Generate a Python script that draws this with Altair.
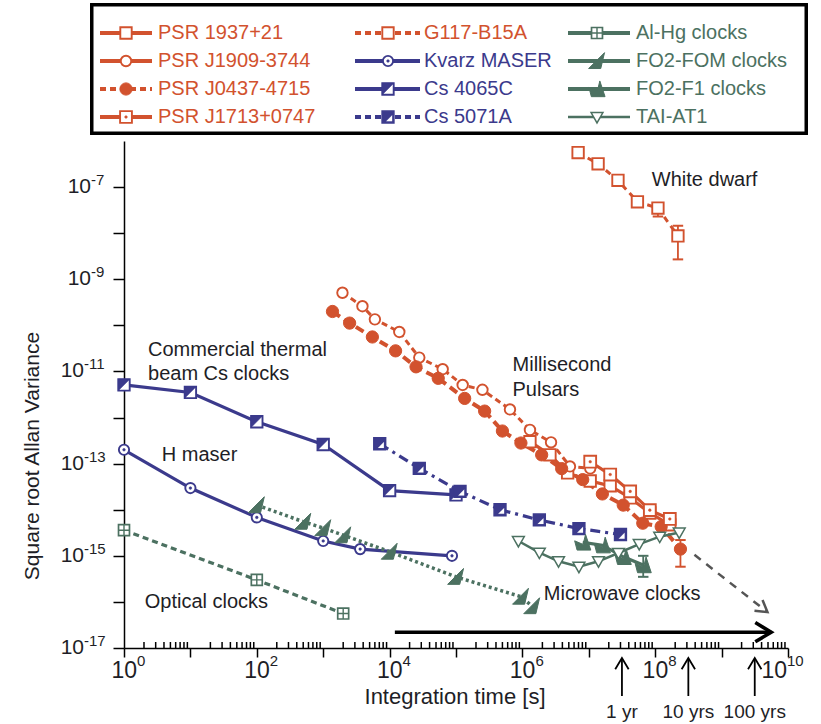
import altair as alt
import pandas as pd

RED, NAVY, GREEN = "#d2522e", "#3b3a8c", "#4c7161"
INK = "#1e1e26"
FONT = "Liberation Sans"
W, H = 664, 507  # plot area in px

# ---- integration time tau [s] and square-root Allan variance ----
psr1937_tau = [1.3e6, 2.6e6, 4.8e6, 1.05e7, 2.1e7, 4.2e7, 8.3e7, 1.66e8]
psr1937_sig = [3.0e-13, 1.55e-13, 6.3e-14, 4.2e-14, 3.3e-14, 1.8e-14, 8.5e-15, 4.7e-15]

j1909_tau = [1950, 3900, 6000, 1.4e4, 2.8e4, 6.3e4, 1.26e5, 2.5e5, 6.5e5, 1.3e6, 2.7e6, 5.2e6, 1.05e7]
j1909_sig = [5.1e-10, 2.6e-10, 1.35e-10, 7.2e-11, 2.0e-11, 1.12e-11, 5.1e-12, 4.0e-12,
             1.5e-12, 5.4e-13, 2.9e-13, 8.7e-14, 7.9e-14]

j0437_tau = [1380, 2500, 5500, 1.23e4, 2.5e4, 5.4e4, 1.35e5, 2.7e5, 5.0e5, 9.5e5, 1.95e6,
             3.9e6, 8.1e6, 1.6e7, 3.3e7, 6.5e7, 1.23e8, 2.4e8]
j0437_sig = [2.0e-10, 1.12e-10, 5.6e-11, 2.8e-11, 1.26e-11, 7.1e-12, 2.6e-12, 1.38e-12,
             5.1e-13, 2.8e-13, 1.55e-13, 7.8e-14, 4.5e-14, 2.2e-14, 1.26e-14, 5.1e-15,
             4.3e-15, 1.4e-15]

j1713_tau = [1.05e7, 2.1e7, 4.2e7, 8.3e7, 1.66e8]
j1713_sig = [1.1e-13, 5.8e-14, 2.5e-14, 9.8e-15, 6.3e-15]

g117_tau = [6.9e6, 1.38e7, 2.75e7, 5.4e7, 1.1e8, 2.2e8]
g117_sig = [5.6e-7, 3.2e-7, 1.4e-7, 4.8e-8, 3.5e-8, 8.7e-9]

kvarz_tau = [1, 10, 100, 1000, 3.6e3, 8.7e4]
kvarz_sig = [2.0e-13, 2.95e-14, 6.8e-15, 2.1e-15, 1.4e-15, 1.0e-15]

cs4065_tau = [1, 10, 100, 1000, 1e4, 1e5]
cs4065_sig = [5.1e-12, 3.5e-12, 8.1e-13, 2.6e-13, 2.6e-14, 2.1e-14]

cs5071_tau = [7.1e3, 2.8e4, 1.15e5, 4.6e5, 1.8e6, 7.1e6, 3.0e7]
cs5071_sig = [2.7e-13, 7.9e-14, 2.5e-14, 1.0e-14, 6.0e-15, 3.9e-15, 2.9e-15]

alhg_tau = [1, 100, 2000]
alhg_sig = [3.6e-15, 3.0e-16, 5.6e-17]

fom_tau = [100, 500, 1000, 2000, 1e4, 1e5, 9.5e5, 1.4e6]
fom_sig = [1.26e-14, 5.5e-15, 4.0e-15, 2.8e-15, 1.23e-15, 3.5e-16, 1.3e-16, 8.1e-17]

f1_tau = [8.1e6, 1.6e7, 3.3e7, 6.6e7]
f1_sig = [1.95e-15, 1.7e-15, 9.5e-16, 6.3e-16]

tai_tau = [8.7e5, 1.8e6, 3.5e6, 7.1e6, 1.4e7, 2.8e7, 5.75e7, 1.17e8, 2.3e8]
tai_sig = [2.1e-15, 1.17e-15, 7.6e-16, 5.8e-16, 7.6e-16, 1.15e-15, 1.8e-15, 2.6e-15, 3.2e-15]

# error bars: tau, lower, upper, colour
err_tau = [1.1e8, 2.2e8, 2.4e8, 6.6e7]
err_lo = [2.3e-8, 2.7e-9, 5.8e-16, 3.5e-16]
err_hi = [4.3e-8, 1.45e-8, 2.2e-15, 1.0e-15]
err_col = [RED, RED, RED, GREEN]

# ---- marker glyphs (shape, fill, stroke, size, stroke width) ----
SQ, CIRC = "square", "circle"
HALF = "M-1,-1L1,-1L-1,1Z"
NOTCH = "M0.7,-0.3L0.7,0.7L-0.3,0.7Z"
PLUS = "M-1,0L1,0M0,-1L0,1"
FOM = "M-1,0.9L0.9,-1L0.45,0.9Z"
F1 = "M-1,-0.2L0.05,0.25L0.35,-1L1,0.95L-0.7,0.95Z"
TRI = "M-1,-0.75L1,-0.75L0,1Z"
CAP = "M-1,0L1,0"
CHEVRON = "M-1,-0.6L0,0L-1,0.6"


def g_osq(c): return [(SQ, "white", c, 130, 1.9)]
def g_ocirc(c): return [(CIRC, "white", c, 110, 1.9)]
def g_fcirc(c): return [(CIRC, c, c, 150, 1)]
def g_dotsq(c): return [(SQ, "white", c, 140, 1.9), (CIRC, c, c, 7, 0.5)]
def g_dotcirc(c): return [(CIRC, "white", c, 105, 1.9), (CIRC, c, c, 7, 0.5)]
def g_half(c): return [(SQ, "white", c, 130, 1.9), (HALF, c, c, 130, 0.5)]
def g_solid(c): return [(SQ, c, c, 140, 1.5), (NOTCH, "white", "white", 140, 0.1)]
def g_plus(c): return [(SQ, "white", c, 120, 1.7), (PLUS, "transparent", c, 120, 1.4)]
def g_fom(c): return [(FOM, c, c, 280, 1)]
def g_f1(c): return [(F1, c, c, 260, 1)]
def g_tri(c): return [(TRI, "white", c, 140, 1.5)]


# name, colour, plot dash, plot width, legend dash, glyphs, tau, sigma
SERIES = [
    ("PSR 1937+21", RED, [], 3.2, [], g_osq(RED), psr1937_tau, psr1937_sig),
    ("PSR J1909-3744", RED, [6, 4], 3, [], g_ocirc(RED), j1909_tau, j1909_sig),
    ("PSR J0437-4715", RED, [9, 5], 4, [7, 4], g_fcirc(RED), j0437_tau, j0437_sig),
    ("PSR J1713+0747", RED, [], 3.2, [], g_dotsq(RED), j1713_tau, j1713_sig),
    ("G117-B15A", RED, [6, 5], 3, [6, 4], g_osq(RED), g117_tau, g117_sig),
    ("Kvarz MASER", NAVY, [], 3.2, [], g_dotcirc(NAVY), kvarz_tau, kvarz_sig),
    ("Cs 4065C", NAVY, [], 3.2, [], g_half(NAVY), cs4065_tau, cs4065_sig),
    ("Cs 5071A", NAVY, [10, 5, 3, 5], 3.2, [5, 4], g_solid(NAVY), cs5071_tau, cs5071_sig),
    ("Al-Hg clocks", GREEN, [6, 4], 3.2, [], g_plus(GREEN), alhg_tau, alhg_sig),
    ("FO2-FOM clocks", GREEN, [3, 3], 3.5, [], g_fom(GREEN), fom_tau, fom_sig),
    ("FO2-F1 clocks", GREEN, [], 3.2, [], g_f1(GREEN), f1_tau, f1_sig),
    ("TAI-AT1", GREEN, [], 2.5, [], g_tri(GREEN), tai_tau, tai_sig),
]

xs = alt.Scale(type="log", domain=[1, 1e10], nice=False)
ys = alt.Scale(type="log", domain=[1e-17, 1e-6], nice=False)
X = lambda f: alt.X(f, type="quantitative", scale=xs)
Y = lambda f: alt.Y(f, type="quantitative", scale=ys)

x_axis = alt.Axis(values=[10.0 ** k for k in range(0, 11)], labels=False, title=None,
                  tickSize=9, tickWidth=1.5, tickColor="black", domainColor="black",
                  domainWidth=1.5, grid=False)
y_axis = alt.Axis(values=[10.0 ** k for k in range(-17, -6)], labels=False, title=None,
                  tickSize=11, tickWidth=1.5, tickColor="black", domainColor="black",
                  domainWidth=1.5, grid=False)

layers = []

# minor decade ticks drawn upward from the time axis
minor = pd.DataFrame([{"tau": m * 10.0 ** k, "y0": 1e-17, "y1": 10 ** -16.87}
                      for k in range(0, 10) for m in range(2, 10)])
layers.append(alt.Chart(minor).mark_rule(color="black", strokeWidth=1.5).encode(
    x=alt.X("tau:Q", scale=xs, axis=x_axis),
    y=alt.Y("y0:Q", scale=ys, axis=y_axis), y2="y1:Q"))

# connecting lines
for name, col, dash, lw, _, _, taus, sigs in SERIES:
    d = pd.DataFrame({"tau": taus, "sig": sigs})
    kw = dict(color=col, strokeWidth=lw)
    if dash:
        kw["strokeDash"] = dash
    layers.append(alt.Chart(d).mark_line(**kw).encode(x=X("tau"), y=Y("sig")))

# error bars with caps
err = pd.DataFrame({"tau": err_tau, "lo": err_lo, "hi": err_hi, "col": err_col})
layers.append(alt.Chart(err).mark_rule(strokeWidth=1.8).encode(
    x=X("tau"), y=Y("lo"), y2="hi", color=alt.Color("col:N", scale=None)))
for end in ("lo", "hi"):
    layers.append(alt.Chart(err).mark_point(shape=CAP, size=110, strokeWidth=2, opacity=1).encode(
        x=X("tau"), y=Y(end), stroke=alt.Stroke("col:N", scale=None)))

# marker glyphs
rows = []
for name, col, _, _, _, glyphs, taus, sigs in SERIES:
    for t, s in zip(taus, sigs):
        for shape, fill, stroke, size, sw in glyphs:
            rows.append(dict(tau=t, sig=s, shape=shape, fill=fill, stroke=stroke, size=size, sw=sw))
glyph_df = pd.DataFrame(rows)


def glyph_enc(xe, ye):
    return dict(x=xe, y=ye,
                shape=alt.Shape("shape:N", scale=None),
                fill=alt.Fill("fill:N", scale=None),
                stroke=alt.Stroke("stroke:N", scale=None),
                size=alt.Size("size:Q", scale=None),
                strokeWidth=alt.StrokeWidth("sw:Q", scale=None))


layers.append(alt.Chart(glyph_df).mark_point(opacity=1, fillOpacity=1).encode(
    **glyph_enc(X("tau"), Y("sig"))))

# long-term arrow and extrapolation
span = pd.DataFrame({"t0": [1.2e4], "t1": [5.6e9], "s": [2.2e-17]})
layers.append(alt.Chart(span).mark_rule(color="black", strokeWidth=3.5).encode(
    x=X("t0"), x2="t1", y=Y("s")))
layers.append(alt.Chart(span).mark_point(shape=CHEVRON, size=1024, strokeWidth=3.5,
                                         stroke="black", opacity=1, angle=0).encode(
    x=X("t1"), y=Y("s")))
extrap = pd.DataFrame({"t0": [3.9e8], "t1": [4.9e9], "s0": [1.05e-15], "s1": [6.0e-17]})
layers.append(alt.Chart(extrap).mark_rule(color="#555555", strokeWidth=2.5,
                                          strokeDash=[8, 7]).encode(
    x=X("t0"), x2="t1", y=Y("s0"), y2="s1"))
layers.append(alt.Chart(extrap).mark_point(shape=CHEVRON, size=500, strokeWidth=2.5,
                                           stroke="#555555", opacity=1, angle=37).encode(
    x=X("t1"), y=Y("s1")))

# year markers below the time axis
years = pd.DataFrame({"tau": [3.156e7, 3.156e8, 3.156e9], "lab": ["1 yr", "10 yrs", "100 yrs"]})
layers.append(alt.Chart(years).mark_rule(color="black", strokeWidth=1.8).encode(
    x=X("tau"), y=alt.value(555), y2=alt.value(519)))
layers.append(alt.Chart(years).mark_point(shape=CHEVRON, size=500, strokeWidth=1.8,
                                          stroke="black", opacity=1, angle=270).encode(
    x=X("tau"), y=alt.value(517)))
layers.append(alt.Chart(years).mark_text(font=FONT, fontSize=19, color=INK,
                                         baseline="middle").encode(
    x=X("tau"), y=alt.value(571), text="lab:N"))

# group annotations
notes = pd.DataFrame({
    "tau": [8.9e7, 7.1e5, 7.1e5, 2.3, 2.3, 3.7, 2.05, 2.1e6],
    "sig": [1.4e-7, 1.38e-11, 4.0e-12, 2.95e-11, 8.9e-12, 1.55e-13, 1.0e-16, 1.48e-16],
    "txt": ["White dwarf", "Millisecond", "Pulsars", "Commercial thermal", "beam Cs clocks",
            "H maser", "Optical clocks", "Microwave clocks"],
})
layers.append(alt.Chart(notes).mark_text(font=FONT, fontSize=20, color=INK, align="left",
                                         baseline="middle").encode(
    x=X("tau"), y=Y("sig"), text="txt:N"))

# decade labels written as 10 with a raised exponent
xl = pd.DataFrame({"tau": [10.0 ** k for k in (0, 2, 4, 6, 8, 10)],
                   "e": ["0", "2", "4", "6", "8", "10"]})
for short, dx in ((True, 13), (False, -1)):
    sub = xl[(xl["e"].str.len() == 1) == short]
    layers.append(alt.Chart(sub).mark_text(font=FONT, fontSize=23, color=INK, align="right",
                                           baseline="middle", dx=dx, text="10").encode(
        x=X("tau"), y=alt.value(530)))
    layers.append(alt.Chart(sub).mark_text(font=FONT, fontSize=15, color=INK, align="left",
                                           baseline="middle", dx=dx).encode(
        x=X("tau"), y=alt.value(520), text="e:N"))

yl = pd.DataFrame({"sig": [10.0 ** k for k in (-7, -9, -11, -13, -15, -17)],
                   "e": ["-7", "-9", "-11", "-13", "-15", "-17"]})
for short, px in ((True, -33), (False, -40)):
    sub = yl[(yl["e"].str.len() == 2) == short]
    layers.append(alt.Chart(sub).mark_text(font=FONT, fontSize=21, color=INK, align="right",
                                           baseline="middle", text="10").encode(
        x=alt.value(px), y=Y("sig")))
    layers.append(alt.Chart(sub).mark_text(font=FONT, fontSize=15, color=INK, align="left",
                                           baseline="middle", dy=-7).encode(
        x=alt.value(px), y=Y("sig"), text="e:N"))

# axis titles
layers.append(alt.Chart(pd.DataFrame({"t": ["Integration time [s]"]})).mark_text(
    font=FONT, fontSize=22, color=INK, baseline="middle").encode(
    x=alt.value(331), y=alt.value(556), text="t:N"))
layers.append(alt.Chart(pd.DataFrame({"t": ["Square root Allan Variance"]})).mark_text(
    font=FONT, fontSize=21, color=INK, baseline="middle", angle=270).encode(
    x=alt.value(-91), y=alt.value(315), text="t:N"))

main = alt.layer(*layers)

# ---- boxed legend, three columns of four entries ----
COL_LINE = [(-24, 28), (231, 296), (444, 506)]
COL_MARK = [2, 264, 473]
COL_TEXT = [34, 300, 512]
ROW_Y = [-108, -80, -52, -24]

leg_rows, leg_glyphs = [], []
for i, (name, col, _, lw, ldash, glyphs, _, _) in enumerate(SERIES):
    c, r = divmod(i, 4)
    leg_rows.append(dict(name=name, col=col, x1=COL_LINE[c][0], x2=COL_LINE[c][1],
                         xm=COL_MARK[c], xt=COL_TEXT[c], y=ROW_Y[r],
                         lw=4 if lw >= 3 else 2.5, dashed=bool(ldash)))
    for shape, fill, stroke, size, sw in glyphs:
        leg_glyphs.append(dict(px=COL_MARK[c], py=ROW_Y[r], shape=shape, fill=fill,
                               stroke=stroke, size=size, sw=sw))
leg = pd.DataFrame(leg_rows)
leg_g = pd.DataFrame(leg_glyphs)

PX = lambda f: alt.X(f, type="quantitative", scale=None)
PY = lambda f: alt.Y(f, type="quantitative", scale=None)

legend_layers = [
    alt.Chart(leg).mark_rect(fill="white", stroke="black", strokeWidth=3).encode(
        x=alt.value(-32), x2=alt.value(682), y=alt.value(-136), y2=alt.value(-8)),
    alt.Chart(leg).transform_filter("!datum.dashed").mark_rule().encode(
        x=PX("x1"), x2="x2", y=PY("y"), color=alt.Color("col:N", scale=None),
        strokeWidth=alt.StrokeWidth("lw:Q", scale=None)),
    alt.Chart(leg).transform_filter("datum.dashed").mark_rule(strokeDash=[6, 4]).encode(
        x=PX("x1"), x2="x2", y=PY("y"), color=alt.Color("col:N", scale=None),
        strokeWidth=alt.StrokeWidth("lw:Q", scale=None)),
    alt.Chart(leg_g).mark_point(opacity=1, fillOpacity=1).encode(**glyph_enc(PX("px"), PY("py"))),
    alt.Chart(leg).mark_text(font=FONT, fontSize=20, align="left", baseline="middle").encode(
        x=PX("xt"), y=PY("y"), text="name:N", color=alt.Color("col:N", scale=None)),
]
legend = alt.layer(*legend_layers)

chart = alt.layer(main, legend).resolve_scale(x="independent", y="independent").properties(
    width=W, height=H,
    autosize=alt.AutoSizeParams(type="none"),
    padding={"left": 124, "top": 141, "right": 33, "bottom": 76},
    background="white",
).configure_view(stroke=None)

chart.save("out.html", embed_options={"renderer": "svg", "actions": False})
